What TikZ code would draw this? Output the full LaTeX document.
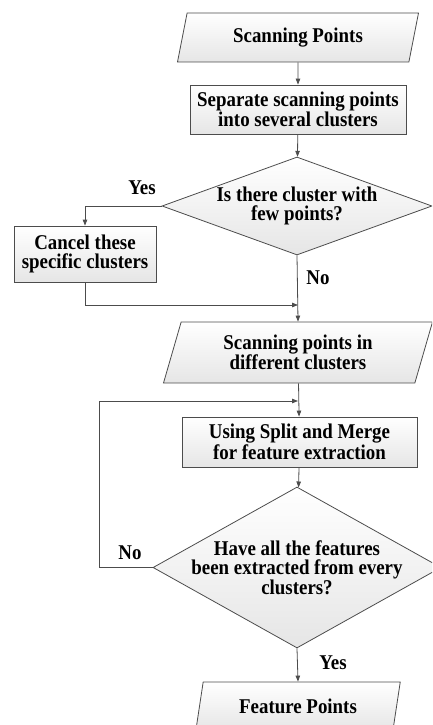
\documentclass[tikz,border=0pt]{standalone}
\usepackage{fontspec}
\setmainfont{Liberation Serif}[FakeStretch=0.9]
\usetikzlibrary{shapes.geometric, arrows.meta}

\begin{document}
\begin{tikzpicture}[x=1pt, y=-1pt,
  every node/.style={font=\bfseries\fontsize{21}{19}\selectfont, align=center},
  flow/.style={draw=black!70, line width=0.8pt, top color=white, bottom color=black!10},
  iobox/.style={flow, trapezium, trapezium left angle=63.4, trapezium right angle=116.6,
    trapezium stretches body, inner sep=0pt},
  procbox/.style={flow, rectangle, inner sep=0pt},
  decbox/.style={flow, diamond, inner sep=-6pt},
  link/.style={draw=black!70, line width=0.8pt, -{Triangle[length=6pt, width=4.5pt]}}]
 \useasboundingbox (0,0) rectangle (432,725);
 \clip (0,0) rectangle (432,725);
 % boxes down the main line
 \node[iobox, minimum width=241, minimum height=49] (pts) at (298,37.5) {Scanning Points};
 \node[procbox, minimum width=216, minimum height=49] (sep) at (298,109.5) {Separate scanning points\\into several clusters};
 \node[decbox, aspect=2.76, minimum width=270, minimum height=98] (few) at (297,206) {Is there cluster with\\few points?};
 \node[procbox, minimum width=142, minimum height=56] (cancel) at (85,254) {Cancel these\\specific clusters};
 \node[iobox, minimum width=269, minimum height=61] (clpts) at (298,352.5) {Scanning points in\\different clusters};
 \node[procbox, minimum width=235, minimum height=50] (sm) at (299.5,442) {Using Split and Merge\\for feature extraction};
 \node[decbox, aspect=1.79, minimum width=288, minimum height=161] (done) at (297,567.5) {Have all the features\\been extracted from every\\clusters?};
 \node[iobox, minimum width=204.5, minimum height=49] (feat) at (298,706.5) {Feature Points};
 % joins
 \coordinate (j1) at (298,305);
 \coordinate (j2) at (298,401);
 \coordinate (lp) at (99,401);
 \draw[link] (pts) -- (sep);
 \draw[link] (sep) -- (few);
 \draw[link] (few.west) -| (cancel.north);
 \draw[link] (cancel.south) |- (j1);
 \draw[link] (few.south) -- (clpts.north);
 \draw[link] (clpts) -- (sm);
 \draw[link] (sm) -- (done);
 \draw[link] (done.west) -| (lp) -- (j2);
 \draw[link] (done.south) -- (feat.north);
 % yes / no
 \node (yes1) at (142,188) {Yes};
 \node (no1) at (318,278) {No};
 \node (no2) at (130,553) {No};
 \node (yes2) at (333,663) {Yes};
\end{tikzpicture}
\end{document}
